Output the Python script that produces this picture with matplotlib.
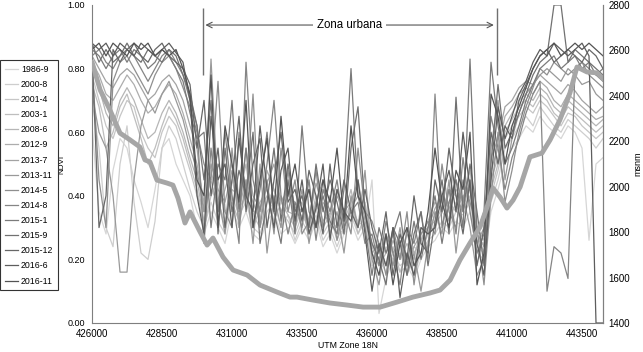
import numpy as np
import matplotlib
matplotlib.use('Agg')
import matplotlib.pyplot as plt

plt.rcParams['font.family'] = ['Liberation Sans', 'DejaVu Sans']

# UTM easting of each NDVI sample (every 250 m)
x_utm = np.arange(426000, 444251, 250)

labels = ['1986-9', '2000-8', '2001-4', '2003-1', '2008-6', '2012-9', '2013-7',
          '2013-11', '2014-5', '2014-8', '2015-1', '2015-9', '2015-12', '2016-6', '2016-11']
colors = ['#d6d6d6', '#cecece', '#c6c6c6', '#bebebe', '#b6b6b6', '#adadad', '#a3a3a3',
          '#999999', '#8f8f8f', '#858585', '#7b7b7b', '#717171', '#676767', '#5d5d5d', '#535353']

# NDVI x100, in three runs: forest west (16) / urban zone (43) / forest east (15)
ndvi = {
    '1986-9': [62, 35, 28, 48, 58, 55, 45, 38, 30, 42, 55, 58, 50, 45, 40, 30,
               28, 35, 30, 25, 36, 30, 35, 28, 26, 32, 35, 28, 30, 25, 30, 26, 32, 24, 28, 22, 28,
               32, 26, 30, 45, 3, 14, 20, 16, 18, 14, 20, 24, 26, 30, 28, 32, 30, 35, 22, 20, 35, 42,
               50, 55, 58, 62, 60, 65, 62, 60, 58, 62, 60, 55, 26, 50, 52],
    '2000-8': [70, 55, 30, 24, 50, 62, 38, 22, 20, 32, 55, 62, 58, 50, 42, 35,
               30, 38, 32, 28, 40, 34, 38, 30, 28, 35, 38, 30, 34, 26, 32, 28, 34, 26, 30, 24, 30,
               34, 28, 32, 18, 20, 16, 22, 18, 20, 15, 22, 26, 28, 32, 30, 35, 34, 38, 24, 22, 38, 45,
               55, 58, 62, 65, 62, 68, 65, 62, 60, 64, 62, 60, 58, 55, 58],
    '2001-4': [78, 70, 62, 58, 65, 70, 68, 60, 55, 52, 60, 65, 62, 55, 48, 40,
               35, 42, 38, 32, 45, 36, 40, 34, 30, 38, 42, 35, 32, 28, 34, 30, 36, 28, 32, 30, 28,
               36, 32, 30, 22, 18, 24, 20, 22, 16, 24, 22, 28, 30, 35, 32, 38, 36, 40, 26, 25, 40, 48,
               58, 62, 65, 68, 66, 70, 68, 65, 62, 66, 65, 62, 60, 58, 60],
    '2003-1': [75, 68, 55, 60, 68, 72, 65, 58, 50, 55, 62, 68, 64, 58, 50, 42,
               30, 40, 45, 35, 38, 32, 42, 30, 36, 40, 32, 38, 34, 30, 36, 28, 38, 30, 34, 26, 32,
               38, 28, 34, 20, 22, 18, 24, 16, 22, 18, 26, 30, 32, 36, 38, 35, 40, 42, 28, 22, 42, 50,
               60, 64, 68, 70, 68, 72, 70, 66, 64, 68, 66, 64, 62, 60, 62],
    '2008-6': [80, 74, 66, 62, 70, 74, 70, 64, 58, 60, 66, 70, 66, 60, 52, 45,
               32, 48, 38, 30, 42, 40, 50, 34, 38, 42, 36, 40, 35, 34, 38, 30, 40, 32, 36, 28, 34,
               42, 30, 38, 24, 18, 22, 28, 20, 25, 20, 30, 28, 34, 40, 36, 42, 38, 48, 30, 26, 45, 52,
               62, 66, 70, 72, 70, 74, 72, 68, 66, 70, 68, 66, 64, 62, 64],
    '2012-9': [82, 78, 72, 70, 74, 78, 75, 70, 66, 68, 72, 75, 72, 66, 58, 50,
               38, 45, 35, 42, 50, 36, 45, 38, 32, 48, 42, 35, 40, 38, 35, 42, 30, 38, 34, 42, 30,
               36, 40, 35, 22, 25, 18, 26, 20, 28, 22, 26, 32, 38, 35, 42, 40, 35, 45, 28, 24, 48, 55,
               65, 68, 72, 74, 72, 76, 74, 70, 68, 72, 70, 68, 66, 64, 65],
    '2013-7': [84, 80, 76, 74, 78, 80, 78, 74, 70, 72, 76, 78, 75, 70, 62, 55,
               35, 50, 42, 38, 48, 32, 55, 40, 36, 44, 50, 38, 42, 36, 40, 32, 44, 36, 30, 40, 35,
               38, 45, 32, 25, 20, 28, 22, 26, 18, 24, 28, 30, 36, 40, 32, 45, 38, 44, 25, 30, 52, 58,
               68, 70, 74, 76, 75, 78, 76, 74, 72, 75, 73, 70, 68, 66, 68],
    '2013-11': [72, 60, 55, 40, 16, 16, 45, 62, 70, 66, 72, 76, 70, 64, 55, 48,
                35, 83, 40, 28, 55, 30, 45, 25, 50, 22, 40, 30, 48, 30, 42, 25, 38, 45, 28, 35, 22,
                40, 30, 48, 20, 12, 28, 18, 30, 15, 22, 10, 25, 35, 28, 45, 22, 40, 30, 15, 20, 55, 70,
                45, 58, 66, 72, 75, 78, 80, 78, 76, 80, 78, 75, 76, 72, 70],
    '2014-5': [82, 45, 30, 76, 82, 84, 80, 76, 72, 78, 82, 84, 80, 74, 68, 60,
               50, 45, 76, 35, 30, 60, 38, 72, 30, 45, 28, 55, 35, 45, 28, 32, 48, 30, 40, 26, 36,
               28, 55, 35, 32, 25, 15, 30, 20, 35, 12, 28, 32, 28, 50, 35, 30, 45, 38, 30, 12, 40, 60,
               38, 48, 60, 68, 74, 80, 78, 82, 80, 78, 80, 82, 78, 76, 74],
    '2014-8': [84, 86, 82, 80, 84, 86, 84, 80, 76, 80, 84, 86, 82, 78, 70, 62,
               25, 55, 35, 60, 40, 25, 82, 45, 35, 50, 70, 40, 28, 38, 30, 45, 26, 42, 35, 45, 30,
               35, 38, 25, 28, 18, 32, 22, 12, 30, 25, 35, 20, 72, 30, 42, 28, 52, 35, 22, 28, 65, 55,
               42, 52, 58, 66, 72, 76, 10, 24, 22, 14, 80, 82, 80, 78, 76],
    '2015-1': [86, 84, 80, 84, 86, 82, 86, 84, 80, 82, 86, 84, 80, 76, 66, 58,
               60, 30, 50, 45, 70, 35, 55, 30, 42, 60, 35, 25, 45, 28, 62, 35, 30, 40, 32, 28, 42,
               80, 40, 30, 15, 30, 22, 28, 35, 18, 32, 20, 30, 40, 25, 38, 45, 30, 83, 28, 35, 82, 62,
               50, 55, 62, 70, 75, 80, 82, 84, 80, 82, 84, 80, 82, 78, 80],
    '2015-9': [88, 82, 86, 82, 84, 88, 84, 82, 86, 84, 82, 86, 84, 78, 72, 62,
               45, 70, 28, 55, 35, 48, 40, 60, 25, 38, 55, 32, 50, 35, 40, 30, 50, 35, 45, 38, 28,
               55, 68, 35, 25, 20, 12, 30, 25, 15, 28, 35, 18, 32, 45, 28, 71, 35, 50, 35, 18, 50, 75,
               55, 60, 66, 72, 78, 82, 84, 100, 100, 82, 86, 84, 82, 80, 78],
    '2015-12': [85, 30, 40, 86, 82, 86, 88, 84, 82, 86, 88, 84, 82, 80, 75, 55,
                70, 40, 55, 30, 45, 65, 35, 50, 58, 30, 45, 60, 38, 42, 32, 48, 40, 28, 50, 30, 45,
                35, 30, 42, 30, 22, 35, 15, 28, 20, 40, 25, 22, 45, 35, 55, 40, 28, 45, 18, 30, 60, 50,
                62, 58, 70, 75, 80, 84, 86, 82, 84, 86, 84, 82, 86, 84, 80],
    '2016-6': [88, 86, 88, 84, 88, 86, 84, 88, 86, 84, 86, 88, 85, 82, 70, 40,
               28, 65, 45, 50, 30, 58, 40, 35, 62, 42, 30, 48, 55, 32, 45, 28, 36, 50, 26, 42, 35,
               32, 45, 28, 10, 25, 18, 30, 8, 22, 15, 30, 28, 30, 40, 48, 35, 60, 42, 25, 15, 45, 68,
               58, 65, 72, 76, 82, 86, 84, 88, 86, 84, 86, 88, 84, 0, 0],
    '2016-11': [86, 88, 84, 88, 86, 84, 88, 86, 88, 84, 86, 84, 86, 80, 72, 45,
                40, 78, 30, 62, 50, 38, 70, 30, 45, 58, 35, 65, 40, 50, 35, 42, 30, 45, 38, 55, 32,
                62, 40, 35, 22, 15, 28, 12, 25, 30, 18, 22, 35, 55, 38, 30, 48, 42, 60, 12, 22, 72, 65,
                50, 62, 68, 74, 80, 84, 86, 88, 84, 86, 88, 86, 88, 86, 84],
}

# elevation profile (metres above sea level)
elev_x = [426000, 426290, 426640, 427000, 427360, 427710, 427890, 428070, 428320, 428680,
          428890, 429070, 429320, 429500, 429860, 430110, 430320, 430680, 431040, 431540,
          432000, 432610, 433070, 433320, 433890, 434500, 435110, 435680, 436290, 436890,
          437460, 438070, 438430, 438790, 439140, 439500, 439860, 440110, 440320, 440570,
          440820, 441040, 441290, 441640, 442070, 442360, 442710, 443070, 443320, 443680,
          444040, 444300]
elev_m = [2549, 2426, 2338, 2236, 2206, 2175, 2118, 2109, 2029, 2016,
          2007, 1950, 1840, 1889, 1801, 1743, 1774, 1690, 1633, 1611,
          1567, 1536, 1514, 1514, 1501, 1488, 1479, 1470, 1470, 1492,
          1514, 1532, 1545, 1589, 1677, 1752, 1823, 1911, 1994, 1955,
          1906, 1941, 1999, 2131, 2148, 2206, 2294, 2413, 2527, 2505,
          2501, 2470]

zone_start, zone_end = 429950, 440450

fig = plt.figure(figsize=(6.43, 3.52), dpi=100)
ax = fig.add_axes([0.1431, 0.0824, 0.7947, 0.9034])

for lab, col in zip(labels, colors):
    ax.plot(x_utm, np.array(ndvi[lab]) / 100.0, color=col, lw=0.9, label=lab)

ax.set_xlim(426000, 444250)
ax.set_ylim(0, 1)
ax.set_xticks(np.arange(426000, 444000, 2500))
ax.set_yticks(np.arange(0, 1.01, 0.2))
ax.set_yticklabels(['%.2f' % v for v in np.arange(0, 1.01, 0.2)])
ax.tick_params(axis='x', length=0, labelsize=7, pad=4)
ax.tick_params(axis='y', length=0, labelsize=6.5, pad=5)
ax.set_xlabel('UTM Zone 18N', fontsize=6.3, labelpad=2)
ax.set_ylabel('NDVI', fontsize=5.8)
ax.yaxis.set_label_coords(-0.052, 0.5)
for s in ['left', 'bottom', 'right']:
    ax.spines[s].set_color('#7f7f7f')
ax.spines['top'].set_visible(False)

# urban zone marker
ax.vlines([zone_start, zone_end], 0.78, 0.99, color='#707070', lw=1)
ax.annotate('', xy=(zone_start, 0.937), xytext=(zone_end, 0.937),
            arrowprops=dict(arrowstyle='<->', color='#555555', lw=0.8))
ax.text((zone_start + zone_end) / 2, 0.937, 'Zona urbana', ha='center', va='center',
        fontsize=8.3, bbox=dict(facecolor='white', edgecolor='none', pad=3))

ax2 = ax.twinx()
ax2.plot(elev_x, elev_m, color='#a6a6a6', lw=3.5, solid_capstyle='round')
ax2.set_ylim(1400, 2800)
ax2.set_yticks(np.arange(1400, 2801, 200))
ax2.tick_params(length=0, labelsize=7, pad=4)
ax2.set_ylabel('msnm', fontsize=6.5, labelpad=2)
ax2.spines['top'].set_visible(False)
ax2.spines['right'].set_color('#7f7f7f')
ax2.spines['left'].set_visible(False)
ax2.spines['bottom'].set_visible(False)

leg = fig.legend(loc='upper left', bbox_to_anchor=(0.0, 0.8295), borderaxespad=0,
                 fontsize=6.3, handlelength=1.5, labelspacing=0.70, borderpad=0.55,
                 handletextpad=0.35, fancybox=False, edgecolor='#333333', framealpha=1)
leg.get_frame().set_linewidth(0.8)

fig.savefig('out.png', dpi=100)
